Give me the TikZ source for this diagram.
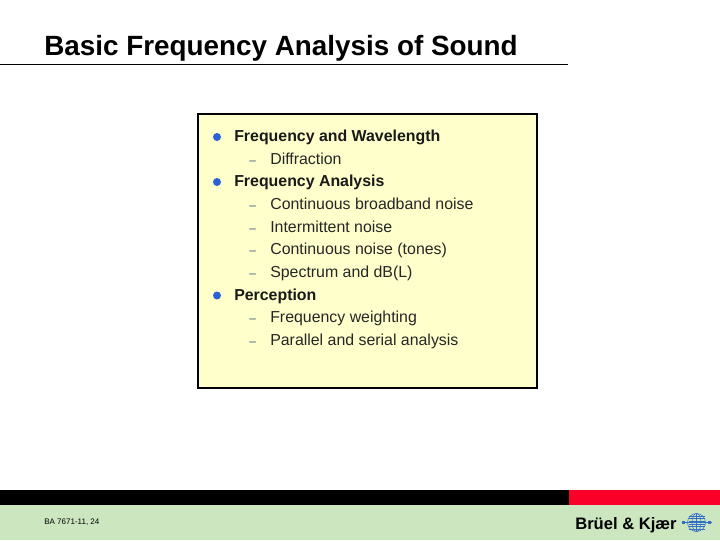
\documentclass[tikz,border=0pt]{standalone}
\usepackage{fontspec}
\setmainfont{Liberation Sans}
\usepackage{xcolor}
\definecolor{panelyellow}{RGB}{255,255,204}
\definecolor{footgreen}{RGB}{204,230,192}
\definecolor{footred}{RGB}{250,0,40}
\definecolor{dotblue}{RGB}{45,95,215}
\definecolor{globeblue}{RGB}{50,110,200}
\tikzset{
  topic/.style={anchor=base west,inner sep=0,font=\fontsize{11.3pt}{13pt}\selectfont\bfseries,text=black!90},
  subtopic/.style={anchor=base west,inner sep=0,font=\fontsize{11.3pt}{13pt}\selectfont,text=black!85},
  bardash/.style={anchor=base west,inner sep=0,font=\fontsize{8.5pt}{10pt}\selectfont,text=dotblue!45!black!80},
  dot/.style={circle,fill=dotblue,inner sep=0,minimum size=5.7pt}
}
\begin{document}
\begin{tikzpicture}[x=0.025cm,y=-0.025cm]
  \useasboundingbox (0,0) rectangle (720,540);
  \fill[white] (0,0) rectangle (720,540);
  % title
  \node[anchor=base west,inner sep=0,font=\fontsize{19.8pt}{22pt}\selectfont\bfseries] (title) at (44,55) {Basic Frequency Analysis of Sound};
  \draw[line width=1.1pt] (0,64.5) -- (568,64.5);
  % panel
  \draw[fill=panelyellow,line width=1.4pt] (198,114) rectangle (537,388);
  \foreach \name/\ypos/\txt in {a/141.5/Frequency and Wavelength,b/186.5/Frequency Analysis,c/300/Perception} {
    \node[dot] (dot\name) at (217,\ypos-4.5) {};
    \node[topic] (item\name) at (234,\ypos) {\txt};
  }
  \foreach \name/\ypos/\txt in {a/164/Diffraction,b/209/Continuous broadband noise,c/232/Intermittent noise,d/254.5/Continuous noise (tones),e/277.5/Spectrum and dB(L),f/322.5/Frequency weighting,g/345/Parallel and serial analysis} {
    \node[bardash] (bar\name) at (249,\ypos) {–};
    \node[subtopic] (sub\name) at (270,\ypos) {\txt};
  }
  % footer
  \fill[black] (0,490) rectangle (569,505);
  \fill[footred] (569,490) rectangle (720,505);
  \fill[footgreen] (0,505) rectangle (720,540);
  \node[anchor=base west,inner sep=0,font=\fontsize{5.7pt}{7pt}\selectfont] (code) at (44,524) {BA 7671-11, 24};
  \node[anchor=base west,inner sep=0,font=\fontsize{11.8pt}{13pt}\selectfont\bfseries] (brand) at (575,529) {Brüel \& Kjær};
  % logo
  \begin{scope}[globeblue,line width=0.4pt]
    \draw (696.5,522.5) circle (9);
    \draw (696.5,522.5) ellipse (4.5 and 9);
    \draw (696.5,513.5) -- (696.5,531.5);
    \foreach \ypos in {516,518.5,521,524,526.5,529} {
      \draw (688.5,\ypos) -- (704.5,\ypos);
    }
    \draw[line width=0.8pt] (682,522.5) -- (712,522.5);
    \fill (682,521) rectangle (685,524);
    \fill (708,521) rectangle (711,524);
  \end{scope}
\end{tikzpicture}
\end{document}
